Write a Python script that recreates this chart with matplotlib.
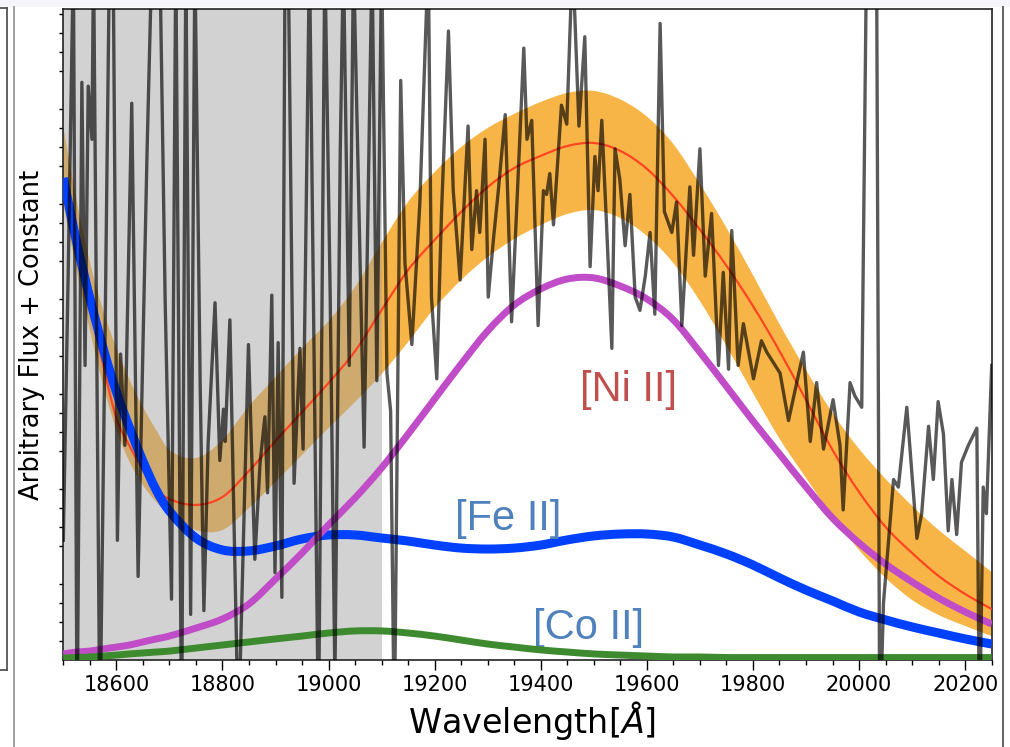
import numpy as np
import matplotlib
matplotlib.use("Agg")
import matplotlib.pyplot as plt
from matplotlib.lines import Line2D
from matplotlib.patches import Rectangle, PathPatch
from matplotlib.path import Path
from matplotlib.ticker import MultipleLocator, NullFormatter

# model grid (Angstrom) and the fitted components
model_wave = [18500, 18525, 18550, 18575, 18600, 18625, 18650, 18675, 18700,
              18750, 18800, 18850, 18900, 18950, 19000, 19050, 19100, 19150,
              19200, 19250, 19300, 19350, 19400, 19450, 19500, 19550, 19600,
              19650, 19700, 19750, 19800, 19850, 19900, 19950, 20000, 20050,
              20100, 20150, 20200, 20250]

fe_flux = [2.537, 2.200, 1.905, 1.642, 1.411, 1.221, 1.047, 0.895, 0.784,
           0.642, 0.579, 0.574, 0.600, 0.637, 0.658, 0.658, 0.642, 0.626,
           0.605, 0.589, 0.584, 0.589, 0.605, 0.632, 0.653, 0.663, 0.663,
           0.647, 0.605, 0.558, 0.500, 0.432, 0.368, 0.311, 0.253, 0.211,
           0.174, 0.142, 0.111, 0.084]

ni_flux = [0.032, 0.042, 0.047, 0.058, 0.068, 0.079, 0.095, 0.111, 0.126,
           0.168, 0.216, 0.295, 0.426, 0.563, 0.711, 0.853, 1.011, 1.189,
           1.374, 1.558, 1.732, 1.868, 1.953, 2.005, 2.011, 1.968, 1.900,
           1.790, 1.620, 1.440, 1.258, 1.084, 0.911, 0.747, 0.616, 0.505,
           0.411, 0.326, 0.253, 0.189]

co_flux = [0.011, 0.013, 0.016, 0.021, 0.026, 0.032, 0.037, 0.042, 0.047,
           0.063, 0.079, 0.095, 0.111, 0.126, 0.142, 0.153, 0.153, 0.142,
           0.126, 0.105, 0.084, 0.068, 0.053, 0.042, 0.032, 0.026, 0.021,
           0.016, 0.016, 0.013, 0.013, 0.013, 0.013, 0.013, 0.013, 0.013,
           0.013, 0.013, 0.013, 0.013]

total_flux = [2.526, 2.184, 1.868, 1.553, 1.274, 1.126, 1.000, 0.900, 0.847,
              0.816, 0.858, 0.995, 1.153, 1.305, 1.458, 1.626, 1.842, 2.053,
              2.211, 2.358, 2.489, 2.589, 2.653, 2.705, 2.721, 2.679, 2.585,
              2.440, 2.265, 2.075, 1.863, 1.626, 1.368, 1.105, 0.884, 0.700,
              0.563, 0.442, 0.347, 0.268]

total_hi = [2.805, 2.421, 2.095, 1.842, 1.642, 1.474, 1.332, 1.211, 1.105,
            1.063, 1.158, 1.337, 1.489, 1.642, 1.784, 1.963, 2.195, 2.411,
            2.568, 2.700, 2.800, 2.874, 2.937, 2.984, 2.995, 2.950, 2.860,
            2.715, 2.505, 2.275, 2.026, 1.768, 1.526, 1.300, 1.111, 0.953,
            0.811, 0.684, 0.574, 0.463]

total_lo = [2.395, 2.053, 1.737, 1.447, 1.211, 1.042, 0.921, 0.832, 0.763,
            0.684, 0.684, 0.800, 0.937, 1.079, 1.221, 1.358, 1.505, 1.674,
            1.853, 2.000, 2.121, 2.216, 2.289, 2.347, 2.368, 2.326, 2.232,
            2.089, 1.889, 1.653, 1.405, 1.165, 0.958, 0.757, 0.579, 0.432,
            0.316, 0.237, 0.179, 0.126]

# observed spectrum
spec_wave = [18500, 18509, 18519, 18526, 18535, 18541, 18547, 18554, 18557, 18569,
             18579, 18587, 18594, 18602, 18608, 18616, 18629, 18641, 18658, 18667,
             18682, 18692, 18704, 18712, 18723, 18731, 18740, 18748, 18758, 18765,
             18773, 18786, 18795, 18802, 18805, 18814, 18830, 18849, 18861, 18871,
             18880, 18885, 18893, 18899, 18905, 18912, 18918, 18924, 18935, 18946,
             18952, 18964, 18981, 18993, 19003, 19012, 19022, 19028, 19039, 19047,
             19067, 19082, 19091, 19100, 19110, 19117, 19124, 19136, 19144, 19157,
             19172, 19188, 19194, 19204, 19213, 19226, 19235, 19248, 19263, 19270,
             19279, 19285, 19295, 19301, 19311, 19320, 19333, 19345, 19355, 19368,
             19374, 19383, 19395, 19405, 19411, 19417, 19424, 19439, 19449, 19460,
             19472, 19483, 19493, 19502, 19508, 19515, 19524, 19534, 19540, 19549,
             19559, 19568, 19578, 19587, 19597, 19606, 19615, 19625, 19633, 19647,
             19656, 19666, 19681, 19688, 19700, 19710, 19722, 19735, 19744, 19754,
             19760, 19772, 19782, 19801, 19816, 19826, 19851, 19867, 19895, 19908,
             19920, 19933, 19951, 19964, 19970, 19983, 19992, 20005, 20014, 20033,
             20039, 20046, 20065, 20074, 20090, 20109, 20118, 20131, 20140, 20149,
             20159, 20168, 20175, 20184, 20193, 20206, 20222, 20227, 20234, 20240,
             20250]

spec_flux = [0.63, 2.00, 3.70, -0.40, 3.04, 1.55, 3.02, 2.74, 3.70, -0.40,
             1.78, 3.70, 3.70, 0.63, 1.61, 1.13, 2.93, 0.44, 2.69, 3.70,
             3.70, 1.89, 0.32, 3.70, -0.40, 3.70, 0.24, 3.70, 1.45, 0.26,
             1.14, 1.88, 1.05, 1.32, 1.15, 1.79, -0.40, 1.66, 0.53, 1.04,
             1.28, 0.88, 1.92, 0.46, 1.67, 0.33, 3.70, 3.70, 0.93, 1.64,
             1.11, 3.70, -0.40, 3.70, 1.93, -0.10, 2.67, 3.70, 1.55, 3.70,
             1.12, 3.70, 1.47, 3.70, 1.51, 1.31, -0.40, 3.05, 2.09, 1.66,
             2.40, 3.70, 1.91, 1.48, 2.36, 3.31, 2.47, 2.00, 2.81, 2.16,
             2.47, 2.25, 2.74, 1.91, 2.22, 2.47, 2.87, 1.78, 2.40, 3.22,
             2.74, 2.84, 1.76, 2.47, 2.45, 2.56, 2.29, 2.92, 2.82, 3.70,
             2.81, 3.28, 2.07, 2.65, 2.47, 2.84, 2.29, 1.64, 2.69, 2.53,
             2.18, 2.45, 1.91, 1.84, 2.02, 2.25, 1.82, 3.35, 2.36, 2.25,
             2.41, 1.76, 2.49, 2.13, 2.69, 2.02, 2.35, 1.55, 2.04, 1.53,
             2.26, 1.55, 1.77, 1.48, 1.68, 1.62, 1.51, 1.26, 1.62, 1.15,
             1.46, 1.11, 1.37, 1.13, 0.79, 1.46, 1.39, 1.33, 3.70, 3.70,
             -0.40, 0.30, 0.95, 0.91, 1.33, 0.64, 0.77, 1.23, 0.95, 1.36,
             1.19, 0.68, 0.95, 0.66, 1.04, 1.13, 1.22, -0.40, 0.91, 0.77,
             1.55]

masked_range = (18500, 19100)


def bezier_verts(x, y):
    # cubic Hermite pieces written as Bezier control points, so the
    # curve still passes through every tabulated point
    x = np.asarray(x, float)
    y = np.asarray(y, float)
    n = len(x)
    s = np.empty(n)
    s[1:-1] = (y[2:] - y[:-2]) / (x[2:] - x[:-2])
    s[0] = (y[1] - y[0]) / (x[1] - x[0])
    s[-1] = (y[-1] - y[-2]) / (x[-1] - x[-2])
    verts = [(x[0], y[0])]
    for i in range(n - 1):
        h = x[i + 1] - x[i]
        verts.append((x[i] + h / 3, y[i] + s[i] * h / 3))
        verts.append((x[i + 1] - h / 3, y[i + 1] - s[i + 1] * h / 3))
        verts.append((x[i + 1], y[i + 1]))
    return verts


def smooth_line(ax, x, y, **kw):
    v = bezier_verts(x, y)
    codes = [Path.MOVETO] + [Path.CURVE4] * (len(v) - 1)
    ax.add_patch(PathPatch(Path(v, codes), fill=False, capstyle="butt", **kw))


def smooth_band(ax, x, lo, hi, **kw):
    top = bezier_verts(x, hi)
    bot = bezier_verts(x, lo)[::-1]
    v = top + bot + [top[0]]
    codes = ([Path.MOVETO] + [Path.CURVE4] * (len(top) - 1) + [Path.LINETO]
             + [Path.CURVE4] * (len(bot) - 1) + [Path.CLOSEPOLY])
    ax.add_patch(PathPatch(Path(v, codes), **kw))


fig = plt.figure(figsize=(10.1, 7.47), dpi=100)

# page furniture around the panel
W, H = 1010.0, 747.0
fig.patches.append(Rectangle((0, 1 - 7 / H), 1, 7 / H, transform=fig.transFigure,
                             color="#f5f5fb", lw=0, zorder=0))
for xs, ys, c in [((6.5, 6.5), (8, 670), "#555555"),
                  ((0, 6.5), (8, 8), "#555555"),
                  ((0, 6.5), (670, 670), "#555555"),
                  ((13.5, 13.5), (7, 747), "#999999"),
                  ((1003, 1003), (7, 747), "#555555")]:
    fig.add_artist(Line2D([x / W for x in xs], [1 - y / H for y in ys],
                          transform=fig.transFigure, color=c, lw=1.3))

ax = fig.add_axes([63.3 / W, 1 - 660 / H, 928.4 / W, 651 / H])

smooth_band(ax, model_wave, total_lo, total_hi, facecolor="#f5a31a",
            alpha=0.8, lw=0, zorder=1)
ax.axvspan(*masked_range, color="#9d9d9d", alpha=0.45, lw=0, zorder=2)

smooth_line(ax, model_wave, total_flux, edgecolor="#ff4422", lw=1.6, zorder=2.9)
smooth_line(ax, model_wave, fe_flux, edgecolor="#0040ff", lw=6.5, zorder=3)
smooth_line(ax, model_wave, ni_flux, edgecolor="#c04cc8", lw=5, zorder=3.1)
smooth_line(ax, model_wave, co_flux, edgecolor="#3d8b2e", lw=5, zorder=3.2)
ax.plot(spec_wave, spec_flux, color="k", alpha=0.65, lw=2.4, zorder=4,
        solid_joinstyle="round")

lab = dict(fontsize=30, family="Liberation Sans", ha="center", va="center")
ax.text(19566, 1.42, "[Ni II]", color="#c0504d", **lab)
ax.text(19338, 0.74, "[Fe II]", color="#4f81bd", **lab)
ax.text(19491, 0.17, "[Co II]", color="#4f81bd", **lab)

ax.set_xlim(18500, 20250)
ax.set_ylim(0, 3.426)

ax.xaxis.set_major_locator(MultipleLocator(200))
ax.xaxis.set_minor_locator(MultipleLocator(50))
ax.yaxis.set_major_locator(MultipleLocator(0.5))
ax.yaxis.set_minor_locator(MultipleLocator(0.1))
ax.yaxis.set_major_formatter(NullFormatter())

ax.tick_params(axis="x", which="major", direction="out", length=7, width=1,
               labelsize=15, pad=4)
ax.tick_params(axis="x", which="minor", direction="out", length=3.5, width=1)
ax.tick_params(axis="y", which="major", length=0)
ax.tick_params(axis="y", which="minor", direction="out", length=3, width=1)

for s in ax.spines.values():
    s.set_linewidth(1.2)
    s.set_color("#222222")

ax.set_xlabel(r"Wavelength[$\AA$]", fontsize=24)
ax.set_ylabel("Arbitrary Flux + Constant", fontsize=18.5)
ax.xaxis.set_label_coords(0.505, -0.06)
ax.yaxis.set_label_coords(-0.020, 0.5)

fig.savefig("out.png", dpi=100)
